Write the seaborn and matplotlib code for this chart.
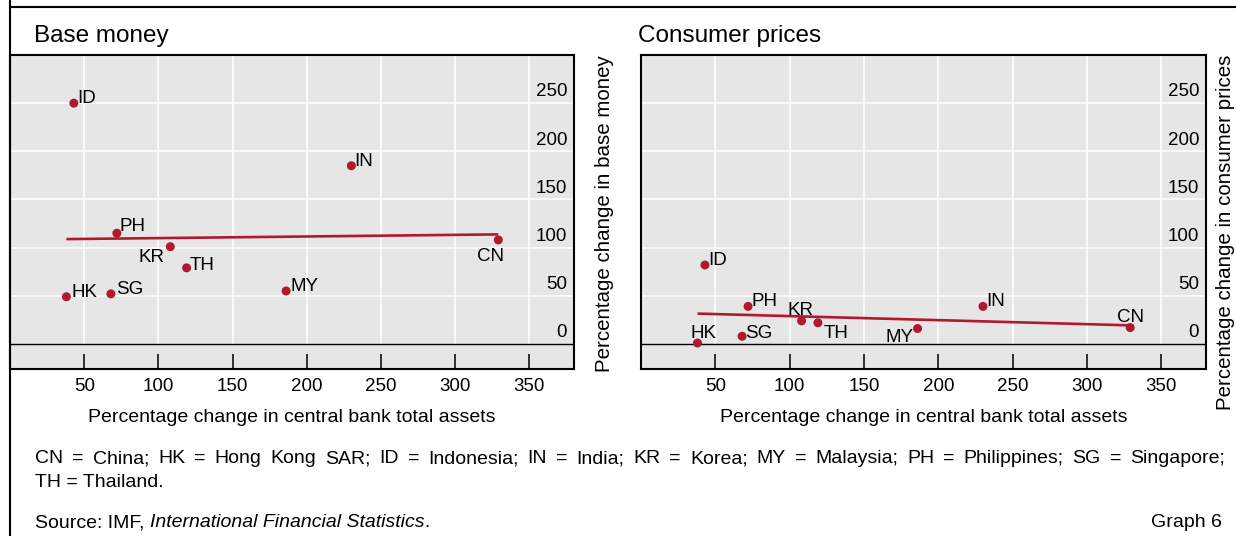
import matplotlib
matplotlib.use("Agg")
import matplotlib.pyplot as plt
from matplotlib.lines import Line2D
from matplotlib.transforms import ScaledTranslation
import seaborn as sns
import pandas as pd

# ---------------- data ----------------
codes = ["CN", "HK", "ID", "IN", "KR", "MY", "PH", "SG", "TH"]
assets_change = [329, 38, 43, 230, 108, 186, 72, 68, 119]
base_money_change = [108, 49, 250, 185, 101, 55, 115, 52, 79]
cpi_change = [17, 1, 82, 39, 24, 16, 39, 8, 22]

x_ticks = [50, 100, 150, 200, 250, 300, 350]
y_ticks = [0, 50, 100, 150, 200, 250]

panel_titles = ["Base money", "Consumer prices"]
y_labels = ["Percentage change in base money", "Percentage change in consumer prices"]
x_label = "Percentage change in central bank total assets"
footnote_1 = ("CN = China; HK = Hong Kong SAR; ID = Indonesia; IN = India; KR = Korea; "
              "MY = Malaysia; PH = Philippines; SG = Singapore;")
footnote_2 = "TH = Thailand."
source_pre = "Source: IMF, "
source_ital = "International Financial Statistics"
source_post = "."
graph_no = "Graph 6"

# label placement (style): ha, dx px, dy px (baseline relative to dot, up positive)
left_label_pos = {
    "ID": ("left", 3, 0), "IN": ("left", 3, 0), "PH": ("left", 3, 2),
    "KR": ("right", -6, -15), "TH": ("left", 3, -2), "HK": ("left", 5, 0),
    "SG": ("left", 5, 0), "MY": ("left", 4, 0), "CN": ("center", -8, -21),
}
right_label_pos = {
    "ID": ("left", 3, 0), "PH": ("left", 3, 0), "KR": ("center", -1, 6),
    "TH": ("left", 6, -15), "HK": ("center", 6, 5), "SG": ("left", 3, -2),
    "MY": ("right", -4, -13), "IN": ("left", 3, 0), "CN": ("center", 0, 6),
}

df = pd.DataFrame({"code": codes, "assets": assets_change,
                   "base": base_money_change, "cpi": cpi_change})

RED = "#b01a2e"
GREY = "#e6e6e6"
X_MIN, X_MAX = 0, 380
Y_MIN, Y_MAX = -26, 300

sns.set_style("white")
plt.rcParams["font.family"] = ["Liberation Sans", "DejaVu Sans"]
plt.rcParams["text.color"] = "black"
plt.rcParams["axes.labelcolor"] = "black"
plt.rcParams["xtick.color"] = "black"
plt.rcParams["ytick.color"] = "black"

W, H = 1236, 536
fig = plt.figure(figsize=(W / 100, H / 100), dpi=100)

def px_rect(x0, y0, x1, y1):
    return [x0 / W, 1 - y1 / H, (x1 - x0) / W, (y1 - y0) / H]

ax1 = fig.add_axes(px_rect(10, 55, 574, 369))
ax2 = fig.add_axes(px_rect(641, 55, 1206, 369))

TICK_FS = 13.5
PT = 0.72  # px -> pt

for ax, ycol, title, ylab, lpos, tx, ypad in [
    (ax1, "base", panel_titles[0], y_labels[0], left_label_pos, 34, 15),
    (ax2, "cpi", panel_titles[1], y_labels[1], right_label_pos, 638, 7.5),
]:
    ax.set_facecolor(GREY)
    ax.set_xlim(X_MIN, X_MAX)
    ax.set_ylim(Y_MIN, Y_MAX)
    ax.grid(False)
    # gridlines
    ax.hlines(y_ticks[1:], X_MIN, X_MAX, colors="white", lw=1.1, zorder=1)
    ax.vlines(x_ticks, 0, Y_MAX, colors="white", lw=1.1, zorder=1)
    ax.axhline(0, color="black", lw=1.0, zorder=2)

    sns.regplot(data=df, x="assets", y=ycol, ax=ax, scatter=False, ci=None,
                color=RED, line_kws={"lw": 1.9, "zorder": 3, "solid_capstyle": "butt"})
    sns.scatterplot(data=df, x="assets", y=ycol, ax=ax, color=RED, s=42,
                    edgecolor="none", zorder=4, legend=False)

    for c, xv, yv in zip(df["code"], df["assets"], df[ycol]):
        ha, dx, dy = lpos[c]
        ax.annotate(c, (xv, yv), xytext=(dx * PT, dy * PT), textcoords="offset points",
                    ha=ha, va="baseline", fontsize=TICK_FS, color="black", zorder=5)

    # x axis
    ax.set_xticks(x_ticks)
    ax.tick_params(axis="x", direction="in", length=10.8, width=1.1, color="black",
                   pad=6.8, labelsize=TICK_FS, bottom=True, top=False, labelcolor="black")
    ax.set_xlabel(x_label, fontsize=14, labelpad=9.5, color="black")

    # y axis: labels inside on right, above gridlines
    ax.set_yticks(y_ticks)
    ax.yaxis.tick_right()
    ax.tick_params(axis="y", length=0, pad=-5, labelsize=TICK_FS,
                   labelright=True, labelleft=False, labelcolor="black")
    for lab in ax.get_yticklabels():
        lab.set_ha("right")
        lab.set_va("bottom")
        lab.set_transform(lab.get_transform() + ScaledTranslation(0, 2 / 72, fig.dpi_scale_trans))
    ax.yaxis.set_label_position("right")
    ax.set_ylabel(ylab, fontsize=14.8, loc="top", labelpad=ypad, color="black")

    for sp in ax.spines.values():
        sp.set_visible(True)
        sp.set_color("black")
        sp.set_linewidth(1.5)

    fig.text(tx / W, 1 - 42 / H, title, fontsize=17.5, ha="left", va="baseline", color="black")

# footnotes
FN = 14
renderer = fig.canvas.get_renderer()

# first footnote line is justified between x=35 and x=1225 px
words = footnote_1.split(" ")
word_texts = [fig.text(0, 1 - 463 / H, w, fontsize=FN, ha="left", va="baseline", color="black")
              for w in words]
widths = [t.get_window_extent(renderer).width for t in word_texts]
L, R = 35, 1225
gap = (R - L - sum(widths)) / (len(words) - 1)
xpos = L
for t, wdt in zip(word_texts, widths):
    t.set_x(xpos / W)
    xpos += wdt + gap

fig.text(35 / W, 1 - 487 / H, footnote_2, fontsize=FN, ha="left", va="baseline", color="black")
t1 = fig.text(35 / W, 1 - 527 / H, source_pre, fontsize=FN, ha="left", va="baseline", color="black")
t2 = fig.text(0, 1 - 527 / H, source_ital, fontsize=FN, style="italic", va="baseline", color="black")
t3 = fig.text(0, 1 - 527 / H, source_post, fontsize=FN, va="baseline", color="black")
fig.text(1222 / W, 1 - 527 / H, graph_no, fontsize=FN, ha="right", va="baseline", color="black")

bb1 = t1.get_window_extent(renderer)
t2.set_x(bb1.x1 / W)
bb2 = t2.get_window_extent(renderer)
t3.set_x(bb2.x1 / W)

# frame lines
fig.add_artist(Line2D([10 / W, 1], [1 - 7 / H, 1 - 7 / H], transform=fig.transFigure,
                      color="black", lw=1.5))
fig.add_artist(Line2D([10 / W, 10 / W], [0, 1], transform=fig.transFigure,
                      color="black", lw=1.5))

fig.savefig("out.png", dpi=100)
